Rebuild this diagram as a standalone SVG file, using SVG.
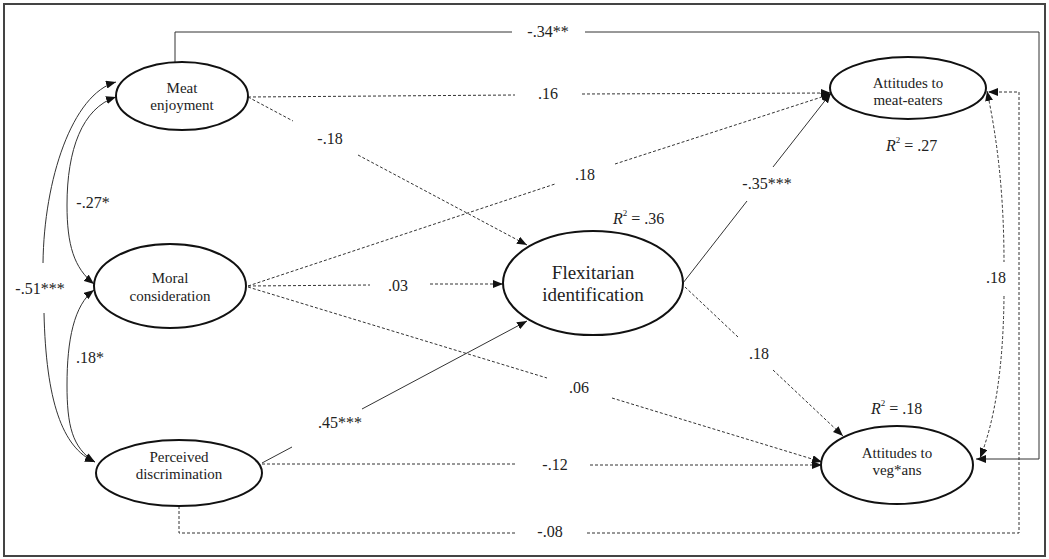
<svg xmlns="http://www.w3.org/2000/svg" width="1049" height="559" viewBox="0 0 1049 559" font-family="'Liberation Serif', 'DejaVu Serif', 'Times New Roman', serif">
<style>
.frame{fill:#fff;stroke:#444;stroke-width:2}
.node{fill:#fff;stroke:#111;stroke-width:2}
.nt{font-size:15px;fill:#222;text-anchor:middle}
.big{font-size:19px}
.el{font-size:16px;fill:#222;text-anchor:middle}
.r2{font-size:16px;fill:#222}
.solid{fill:none;stroke:#333;stroke-width:1}
.dash{fill:none;stroke:#333;stroke-width:1;stroke-dasharray:3 2}
.a{marker-end:url(#arr)}
.as{marker-start:url(#arr)}
</style>
<defs>
<marker id="arr" markerUnits="userSpaceOnUse" markerWidth="10" markerHeight="8" refX="10" refY="4" orient="auto-start-reverse" viewBox="0 0 10 8">
<path d="M0,0 L10,4 L0,8 z" fill="#111" stroke="none"/>
</marker>
</defs>
<rect class="frame" x="4" y="4" width="1041" height="552"/>
<g id="connectors" font-family="'Liberation Serif', 'DejaVu Serif', serif">
<path class="solid as" d="M116,82 C72,94 44,180 43,263"/>
<path class="solid a" d="M44,313 C46,400 62,448 95,462"/>
<path class="solid as a" d="M116,97 C82,108 67,150 67,205 C67,245 74,268 94,284"/>
<path class="solid as a" d="M94,290 C74,305 67,340 67,385 C67,425 72,448 95,462"/>
<text class="el" x="40" y="294">-.51***</text>
<text class="el" x="93" y="208">-.27*</text>
<text class="el" x="90" y="363">.18*</text>
<path class="solid" d="M175,62 V32 H512"/>
<path class="solid a" d="M585,32 H1039 V459 H976"/>
<text class="el" x="548" y="37">-.34**</text>
<path class="dash" d="M248,97 L515,95"/>
<path class="dash a" d="M582,94 L831,93"/>
<text class="el" x="548" y="99">.16</text>
<path class="dash" d="M248,97 L293,121"/>
<path class="dash a" d="M358,155 L527,245"/>
<text class="el" x="330" y="144">-.18</text>
<path class="dash" d="M248,286 L555,184"/>
<path class="dash a" d="M615,164 L831,94"/>
<text class="el" x="585" y="180">.18</text>
<path class="dash" d="M248,286 L370,285"/>
<path class="dash a" d="M430,284 L503,284"/>
<text class="el" x="398" y="291">.03</text>
<path class="dash" d="M248,287 L547,378"/>
<path class="dash a" d="M612,398 L822,462"/>
<text class="el" x="579" y="393">.06</text>
<path class="solid" d="M262,463 L292,447"/>
<path class="solid a" d="M362,409 L527,321"/>
<text class="el" x="340" y="428">.45***</text>
<path class="dash" d="M262,464 L517,464"/>
<path class="dash a" d="M590,465 L822,465"/>
<text class="el" x="555" y="470">-.12</text>
<path class="dash" d="M179,506 V533 H515"/>
<path class="dash a" d="M587,533 H1019 V92 H988"/>
<text class="el" x="550" y="537">-.08</text>
<path class="solid" d="M683,283 L747,201"/>
<path class="solid a" d="M773,167 L831,93"/>
<text class="el" x="767" y="189">-.35***</text>
<path class="dash" d="M685,287 L738,337"/>
<path class="dash a" d="M773,370 L843,436"/>
<text class="el" x="759" y="359">.18</text>
<path class="dash as" d="M987,91 Q1004,170 1004,262"/>
<path class="dash a" d="M1004,296 Q1003,400 980,458"/>
<text class="el" x="996" y="283">.18</text>
</g>
<g id="node-meat">
<ellipse class="node" cx="182" cy="96" rx="66" ry="34"/>
<text class="nt" x="182" y="93">Meat</text>
<text class="nt" x="182" y="110">enjoyment</text>
</g>
<g id="node-moral">
<ellipse class="node" cx="170" cy="286" rx="76" ry="42"/>
<text class="nt" x="170" y="283">Moral</text>
<text class="nt" x="170" y="301">consideration</text>
</g>
<g id="node-perceived">
<ellipse class="node" cx="179" cy="473" rx="83" ry="33"/>
<text class="nt" x="179" y="462">Perceived</text>
<text class="nt" x="179" y="479">discrimination</text>
</g>
<g id="node-flex">
<ellipse class="node" cx="593" cy="283" rx="90" ry="52"/>
<text class="nt big" x="593" y="279">Flexitarian</text>
<text class="nt big" x="593" y="301">identification</text>
<text class="r2" x="613" y="224"><tspan font-style="italic">R</tspan><tspan font-size="9" dy="-8">2</tspan><tspan dy="8"> = .36</tspan></text>
</g>
<g id="node-ame">
<ellipse class="node" cx="908" cy="88" rx="78" ry="31"/>
<text class="nt" x="908" y="88">Attitudes to</text>
<text class="nt" x="908" y="105">meat-eaters</text>
<text class="r2" x="886" y="151"><tspan font-style="italic">R</tspan><tspan font-size="9" dy="-8">2</tspan><tspan dy="8"> = .27</tspan></text>
</g>
<g id="node-aveg">
<ellipse class="node" cx="897" cy="465" rx="76" ry="39"/>
<text class="nt" x="897" y="458">Attitudes to</text>
<text class="nt" x="897" y="475">veg*ans</text>
<text class="r2" x="871" y="414"><tspan font-style="italic">R</tspan><tspan font-size="9" dy="-8">2</tspan><tspan dy="8"> = .18</tspan></text>
</g>
</svg>
